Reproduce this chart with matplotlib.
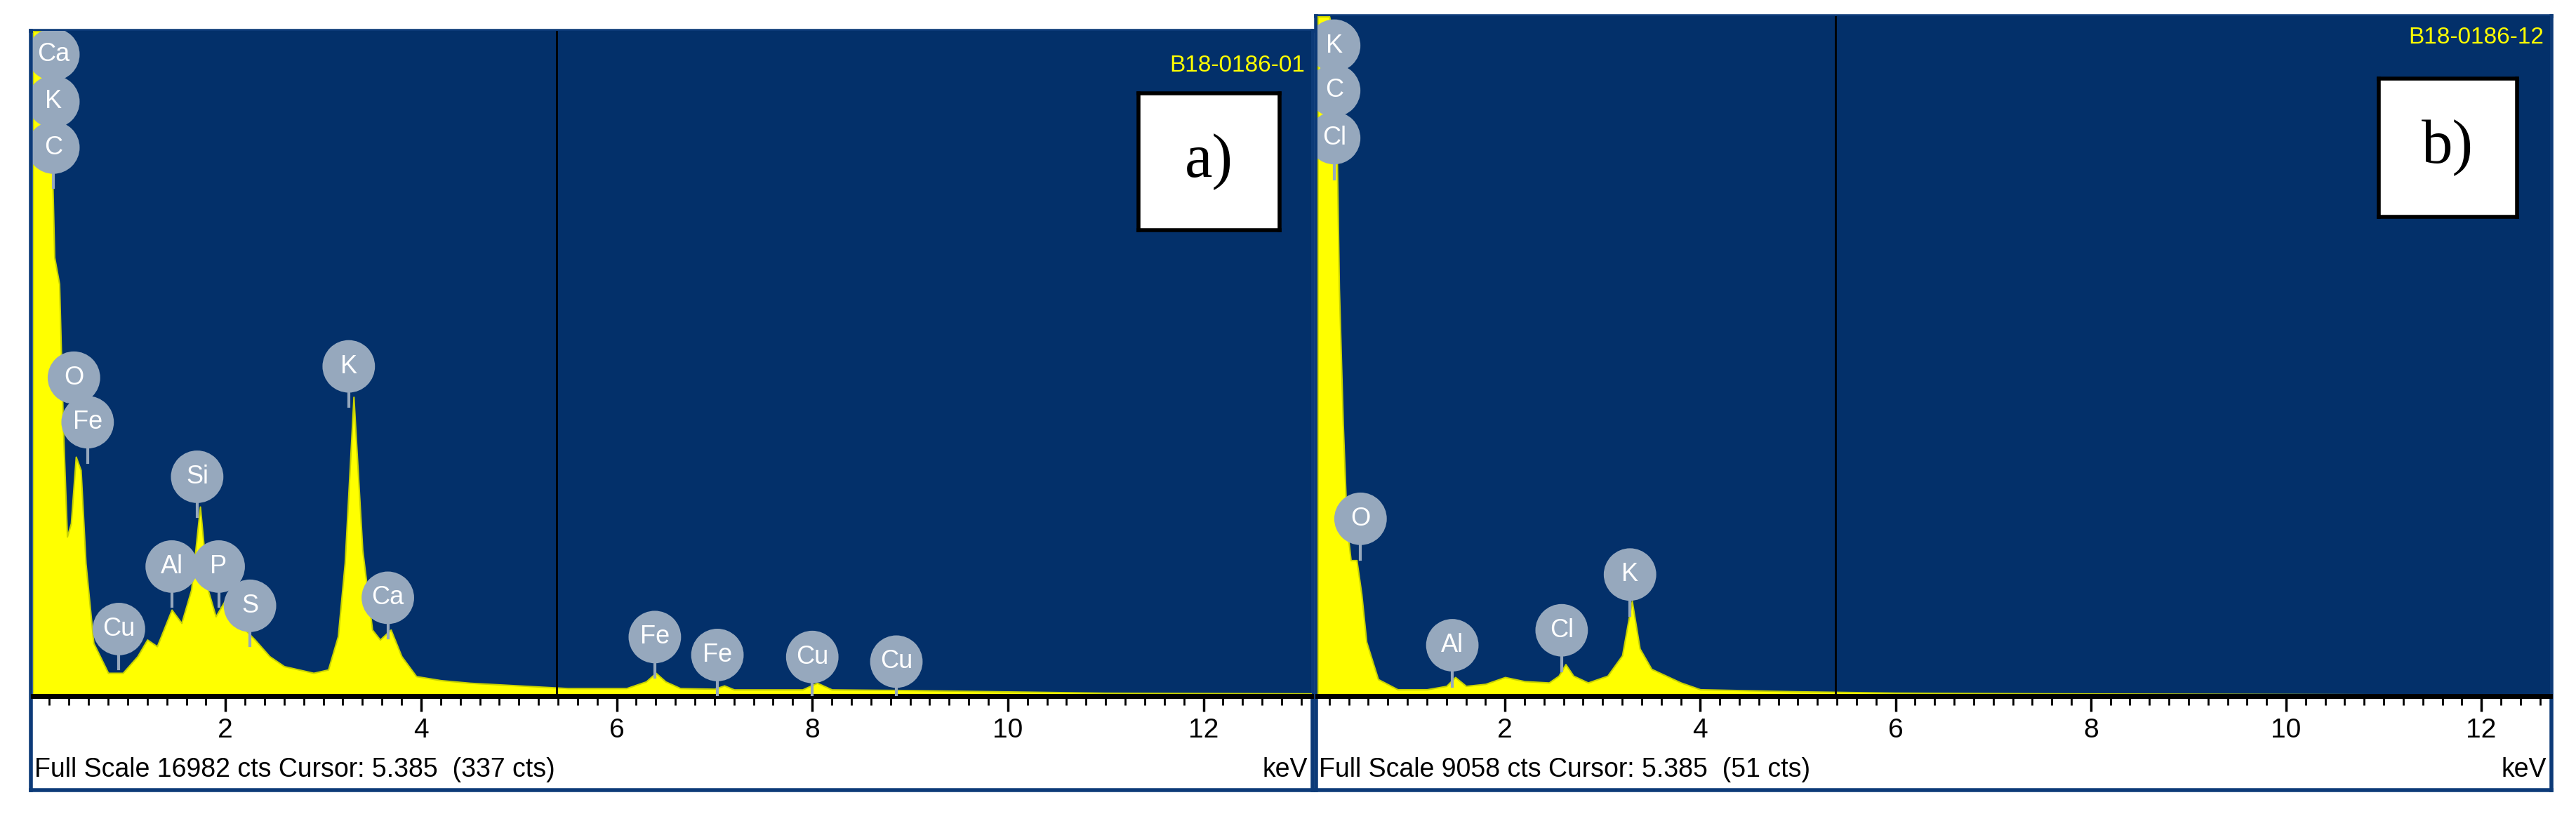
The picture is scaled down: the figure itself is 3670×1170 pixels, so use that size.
import matplotlib
matplotlib.use("Agg")
import matplotlib.pyplot as plt
from matplotlib.ticker import MultipleLocator

# ---------------- data ----------------
energy_a = [0.03, 0.15, 0.2, 0.25, 0.3, 0.34, 0.38, 0.42, 0.47, 0.52, 0.57, 0.65, 0.8, 0.95, 1.1, 1.2,
            1.3, 1.45, 1.55, 1.65, 1.74, 1.82, 1.9, 2.0, 2.1, 2.2, 2.3, 2.45, 2.6, 2.75, 2.9, 3.05, 3.15,
            3.22, 3.31, 3.4, 3.5, 3.58, 3.69, 3.8, 3.95, 4.2, 4.5, 5.0, 5.5, 6.1, 6.3, 6.4, 6.5, 6.65,
            7.0, 7.1, 7.2, 7.9, 8.05, 8.2, 9.0, 10.0, 11.0, 13.1]
counts_a = [1.0, 1.0, 0.96, 0.66, 0.62, 0.4, 0.24, 0.26, 0.36, 0.34, 0.2, 0.08, 0.035, 0.035, 0.06, 0.085,
            0.075, 0.13, 0.11, 0.16, 0.285, 0.16, 0.12, 0.145, 0.12, 0.1, 0.085, 0.06, 0.045, 0.04, 0.035, 0.04, 0.09,
            0.2, 0.45, 0.22, 0.1, 0.085, 0.1, 0.06, 0.03, 0.024, 0.02, 0.016, 0.012, 0.012, 0.022, 0.035, 0.022, 0.012,
            0.011, 0.016, 0.01, 0.01, 0.02, 0.01, 0.009, 0.007, 0.005, 0.004]
labels_a = ["Ca", "K", "C", "O", "Fe", "Si", "Al", "P", "S", "Cu", "K", "Ca", "Fe", "Fe", "Cu", "Cu"]
label_kev_a = [0.24, 0.24, 0.24, 0.45, 0.59, 1.71, 1.45, 1.93, 2.25, 0.91, 3.26, 3.66, 6.39, 7.03, 8.0, 8.86]
label_h_a = [0.965, 0.894, 0.825, 0.479, 0.412, 0.33, 0.195, 0.195, 0.136, 0.101, 0.496, 0.148, 0.089, 0.062, 0.059, 0.052]

energy_b = [0.08, 0.2, 0.26, 0.3, 0.34, 0.38, 0.42, 0.48, 0.53, 0.58, 0.7, 0.9, 1.2, 1.4, 1.49, 1.6, 1.8,
            2.0, 2.2, 2.45, 2.55, 2.62, 2.7, 2.85, 3.05, 3.2, 3.3, 3.38, 3.5, 3.65, 3.8, 4.0, 5.0, 6.0, 7.5, 12.7]
counts_b = [1.0, 1.0, 0.96, 0.6, 0.4, 0.25, 0.2, 0.2, 0.15, 0.08, 0.025, 0.01, 0.01, 0.015, 0.028, 0.015, 0.018,
            0.028, 0.022, 0.02, 0.03, 0.047, 0.03, 0.02, 0.03, 0.06, 0.14, 0.07, 0.04, 0.03, 0.02, 0.01, 0.007, 0.005, 0.004, 0.002]
labels_b = ["K", "C", "Cl", "O", "Al", "Cl", "K"]
label_kev_b = [0.25, 0.25, 0.25, 0.52, 1.46, 2.58, 3.28]
label_h_b = [0.957, 0.891, 0.821, 0.261, 0.075, 0.097, 0.179]

xtick_values = [2, 4, 6, 8, 10, 12]
sample_ids = ["B18-0186-01", "B18-0186-12"]
footer_texts = ["Full Scale 16982 cts Cursor: 5.385  (337 cts)", "Full Scale 9058 cts Cursor: 5.385  (51 cts)"]
panel_tags = ["a)", "b)"]
cursor_kev = 5.385

# ---------------- layout ----------------
W, H = 1568.0, 500.0
fig = plt.figure(figsize=(36.7, 11.7), dpi=100)
plt.rcParams['font.family'] = ['Liberation Sans', 'DejaVu Sans']

DARK = "#03306a"
YEL = "#ffff00"
BLUE = "#0c3a78"
GRAY = "#96a8bd"

def fr(x0, y0, x1, y1):
    return [x0 / W, 1 - y1 / H, (x1 - x0) / W, (y1 - y0) / H]

panels = [
    dict(frame=(19, 19, 799, 481), plot=(20, 19, 798, 424), xlim=(0.03, 13.1),
         e=energy_a, c=counts_a, lab=labels_a, lk=label_kev_a, lh=label_h_a,
         box=(693, 57, 779, 140)),
    dict(frame=(801, 10, 1553, 481), plot=(802, 10, 1552, 424), xlim=(0.08, 12.7),
         e=energy_b, c=counts_b, lab=labels_b, lk=label_kev_b, lh=label_h_b,
         box=(1448, 48, 1532, 132)),
]

for i, p in enumerate(panels):
    fx0, fy0, fx1, fy1 = p["frame"]
    outer = fig.add_axes(fr(*p["frame"]))
    outer.set_xticks([]); outer.set_yticks([])
    outer.set_facecolor("white")
    for s in outer.spines.values():
        s.set_color(BLUE); s.set_linewidth(4)
    outer.set_zorder(0)

    ax = fig.add_axes(fr(*p["plot"]))
    ax.set_zorder(1)
    ax.set_facecolor(DARK)
    ax.set_xlim(*p["xlim"])
    ax.set_ylim(0, 1)
    ax.fill_between(p["e"], p["c"], 0, color=YEL, lw=1.5, edgecolor="#c8d200")
    ax.axvline(cursor_kev, color="black", lw=2)
    for s in ["top", "left", "right"]:
        ax.spines[s].set_visible(False)
    ax.spines["bottom"].set_color("black")
    ax.spines["bottom"].set_linewidth(5)
    ax.set_yticks([])
    ax.set_xticks(xtick_values)
    ax.xaxis.set_minor_locator(MultipleLocator(0.2))
    ax.tick_params(axis="x", which="major", length=16, width=2.5, labelsize=28, pad=6)
    ax.tick_params(axis="x", which="minor", length=9, width=2)
    for lab, k, h in zip(p["lab"], p["lk"], p["lh"]):
        ax.plot([k, k], [h - 0.06, h], color=GRAY, lw=3, zorder=3)
        ax.scatter([k], [h], s=2900, color=GRAY, zorder=4, edgecolors="none")
        ax.text(k, h, lab, color="white", fontsize=26, ha="center", va="center", zorder=5)
    ax.text(0.995, 0.965 if i == 0 else 0.985, sample_ids[i], transform=ax.transAxes, color=YEL,
            fontsize=24, ha="right", va="top")
    fig.text((fx0 + 2) / W, 1 - 469 / H, footer_texts[i], fontsize=27, ha="left", va="center")
    fig.text((fx1 - 3) / W, 1 - 469 / H, "keV", fontsize=27, ha="right", va="center")
    tag = fig.add_axes(fr(*p["box"]))
    tag.set_zorder(6)
    tag.set_xticks([]); tag.set_yticks([])
    tag.set_facecolor("white")
    for s in tag.spines.values():
        s.set_color("black"); s.set_linewidth(4)
    tag.text(0.5, 0.5, panel_tags[i], fontsize=64, family="Liberation Serif",
             ha="center", va="center", transform=tag.transAxes)

fig.savefig("out.png", dpi=100, facecolor="white")
